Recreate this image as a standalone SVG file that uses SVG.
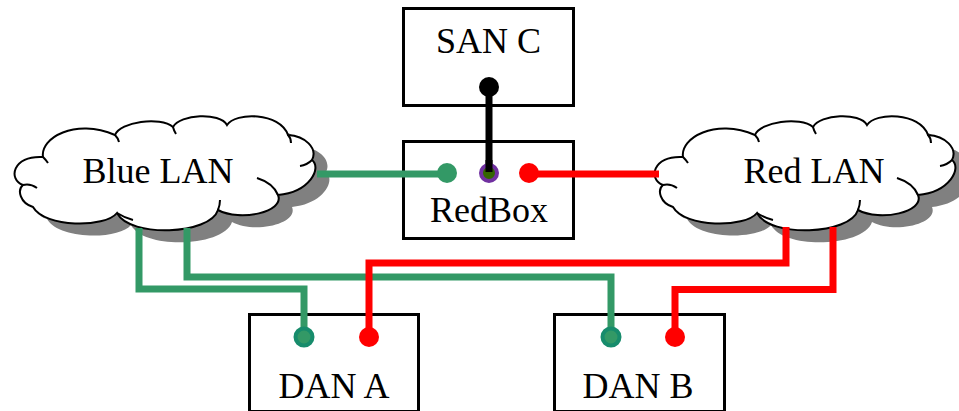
<svg xmlns="http://www.w3.org/2000/svg" width="959" height="411" viewBox="0 0 959 411">
<style>
.box{fill:#fff;stroke:#000;stroke-width:3}
.lbl{font-family:"Liberation Serif","Times New Roman",serif;font-size:36px;fill:#000;text-anchor:middle}
.cloud{fill:#fff;stroke:#000;stroke-width:2}
.shadow{fill:#808080}
.hook{fill:none;stroke:#000;stroke-width:2}
.g{fill:none;stroke:#339966;stroke-width:7;stroke-linejoin:miter}
.r{fill:none;stroke:#ff0000;stroke-width:7;stroke-linejoin:miter}
.gd{fill:#339966;stroke:#178c6c;stroke-width:4}
.rd{fill:#ff0000}
</style>
<defs>
<path id="cloudPath" d="M43,157 C40,138 75,118 115,135 C120,122 160,116 173,127 C180,114 220,112 227,125 C235,112 280,112 288,135 C305,136 318,148 312,160 C322,168 310,192 278,195 C285,212 240,222 218,210 C210,235 130,238 117,213 C105,228 45,228 33,207 C20,203 17,190 23,185 C8,180 12,155 43,157 Z"/>
<g id="hooks">
<path class="hook" d="M23,185 Q30,183 37,188"/>
<path class="hook" d="M43,157 Q46,160 48,163"/>
<path class="hook" d="M115,135 Q118,138 119,142"/>
<path class="hook" d="M173,127 Q174,131 176,134"/>
<path class="hook" d="M288,135 Q291,138 291,143"/>
<path class="hook" d="M312,160 Q307,165 300,166"/>
<path class="hook" d="M278,195 Q273,183 257,178"/>
<path class="hook" d="M218,210 Q220,205 220,200"/>
<path class="hook" d="M117,213 Q125,218 133,220"/>
</g>
</defs>

<g id="blue-lan">
<use href="#cloudPath" class="shadow" transform="translate(14,12)"/>
<use href="#cloudPath" class="cloud"/>
<use href="#hooks"/>
<text class="lbl" x="158" y="183">Blue LAN</text>
</g>

<g id="red-lan">
<use href="#cloudPath" class="shadow" transform="translate(654,12)"/>
<use href="#cloudPath" class="cloud" transform="translate(640,0)"/>
<use href="#hooks" transform="translate(640,0)"/>
<text class="lbl" x="814" y="183">Red LAN</text>
</g>

<g id="san-c">
<rect class="box" x="403.5" y="8.5" width="170" height="97"/>
<text class="lbl" x="488.5" y="53">SAN C</text>
</g>

<g id="redbox">
<rect class="box" x="403.5" y="141.5" width="170" height="97"/>
<text class="lbl" x="489" y="222">RedBox</text>
</g>

<g id="dan-a">
<rect class="box" x="249.5" y="314.5" width="169" height="97"/>
<text class="lbl" x="334" y="398">DAN A</text>
</g>

<g id="dan-b">
<rect class="box" x="554.5" y="314.5" width="170" height="97"/>
<text class="lbl" x="638" y="398">DAN B</text>
</g>

<g id="connectors">
<path class="g" d="M317,174 H447"/>
<path class="r" d="M529,174 H659"/>
<path class="g" d="M139,228 V289 H304 V337"/>
<path class="g" d="M187,228 V277 H611 V337"/>
<path class="r" d="M786,227 V263 H369 V337"/>
<path class="r" d="M833,227 V289.5 H675 V337"/>
<line x1="489" y1="87" x2="489" y2="173" stroke="#000" stroke-width="7"/>
<circle cx="489" cy="87" r="10" fill="#000"/>
<circle cx="447" cy="173" r="10" fill="#339966"/>
<circle cx="529" cy="173" r="10" fill="#ff0000"/>
<circle cx="489" cy="173" r="8" fill="#336600" stroke="#7030a0" stroke-width="4"/>
<line x1="489" y1="160" x2="489" y2="172" stroke="#000" stroke-width="7"/>
<circle class="gd" cx="304" cy="337" r="8.5"/>
<circle class="rd" cx="369" cy="337" r="10"/>
<circle class="gd" cx="611" cy="337" r="8.5"/>
<circle class="rd" cx="675" cy="337" r="10"/>
</g>
</svg>
